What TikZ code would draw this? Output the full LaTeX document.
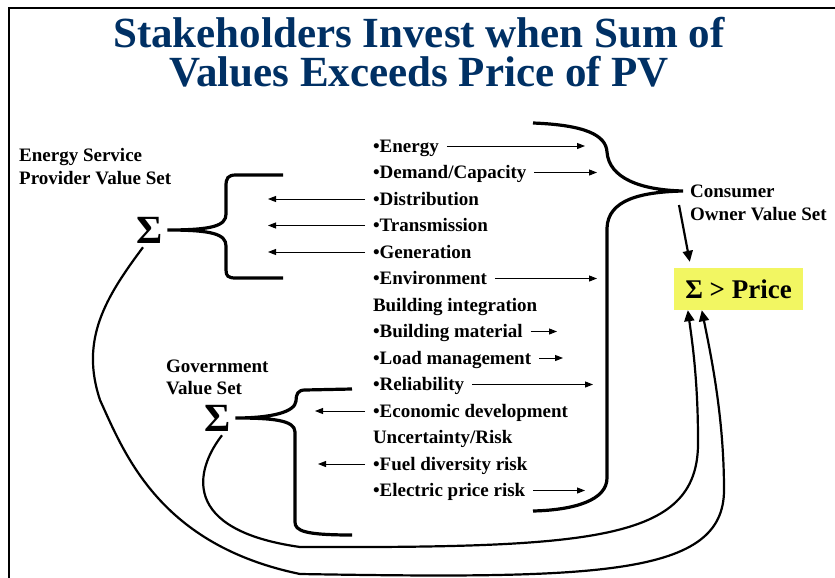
\documentclass[tikz,border=0pt]{standalone}
\usepackage{fontspec}
\setmainfont{Liberation Serif}
\usepackage{tikz}
\usetikzlibrary{positioning,arrows.meta,calc}
\definecolor{titleblue}{RGB}{0,48,100}
\definecolor{pricefill}{RGB}{242,246,98}
\tikzset{
  title/.style={anchor=north,align=center,inner sep=0pt,text=titleblue,font=\fontsize{43}{39}\selectfont\bfseries},
  item/.style={anchor=north west,inner xsep=0pt,inner ysep=0pt,outer sep=0pt,text height=15pt,text depth=3pt,minimum height=26.5pt,font=\fontsize{19}{22}\selectfont\bfseries},
  under/.style={below=0pt of #1.south west,anchor=north west},
  setname/.style={anchor=north west,align=left,inner sep=0pt,font=\fontsize{19}{22.5}\selectfont\bfseries},
  sigma/.style={inner sep=4pt,font=\fontsize{40}{40}\selectfont\bfseries},
  price/.style={fill=pricefill,minimum width=129pt,minimum height=42pt,inner sep=0pt,font=\fontsize{27}{30}\selectfont\bfseries},
  brace/.style={line width=3.2pt},
  arr/.style={line width=1pt,-{Triangle[length=8pt,width=6pt]},shorten <=8pt},
  feed/.style={line width=2.2pt,-{Triangle[length=11pt,width=10pt]}},
}
\begin{document}
\begin{tikzpicture}[x=1pt,y=-1pt]
  \useasboundingbox (0,0) rectangle (835,578);
  % slide frame, only the left and top edges show
  \draw[line width=1.2pt] (9,578) -- (9,8) -- (835,8);

  \node[title] (head) at (419,17) {Stakeholders Invest when Sum of\\ Values Exceeds Price of PV};

  % middle column: the values
  \node[item] (energy) at (373,132.75) {•Energy};
  \node[item,under=energy] (demand) {•Demand/Capacity};
  \node[item,under=demand] (distr) {•Distribution};
  \node[item,under=distr] (trans) {•Transmission};
  \node[item,under=trans] (gen) {•Generation};
  \node[item,under=gen] (env) {•Environment};
  \node[item,under=env] (bldg) {Building integration};
  \node[item,under=bldg] (bmat) {•Building material};
  \node[item,under=bmat] (load) {•Load management};
  \node[item,under=load] (rel) {•Reliability};
  \node[item,under=rel] (econ) {•Economic development};
  \node[item,under=econ] (risk) {Uncertainty/Risk};
  \node[item,under=risk] (fuel) {•Fuel diversity risk};
  \node[item,under=fuel] (eprice) {•Electric price risk};

  % the three value sets
  \node[setname] (esp) at (19,148.5) {Energy Service\\ Provider Value Set};
  \node[setname] (cons) at (690,185) {Consumer\\ Owner Value Set};
  \node[setname] (gov) at (166,359.5) {Government\\ Value Set};
  \node[sigma] (sigesp) at (150,230) {Σ};
  \node[sigma] (siggov) at (218,418) {Σ};
  \node[price] (price) at (738.5,289) {Σ > Price};

  % arrow ends
  \coordinate (energy-r) at (585,146);
  \coordinate (demand-r) at (597,172.5);
  \coordinate (env-r) at (597,278.5);
  \coordinate (bmat-r) at (557,331.5);
  \coordinate (load-r) at (563,358);
  \coordinate (rel-r) at (593,384.5);
  \coordinate (eprice-r) at (585,490.5);
  \coordinate (distr-l) at (268,199);
  \coordinate (trans-l) at (268,225.5);
  \coordinate (gen-l) at (268,252);
  \coordinate (econ-l) at (315,411);
  \coordinate (fuel-l) at (318,464);
  \coordinate (ctip) at (683,191);

  % braces
  \draw[brace] (283,175) -- (236,175) .. controls (228,175) and (226,178) .. (226,186) -- (226,214)
    .. controls (226,226) and (212,230) .. (sigesp.east) .. controls (212,230) and (226,234) .. (226,246)
    -- (226,270) .. controls (226,276) and (228,278) .. (236,278) -- (283,278);
  \draw[brace] (533,123) .. controls (585,125) and (606,135) .. (607,152) .. controls (609,178) and (640,190) .. (ctip)
    .. controls (640,192) and (608,200) .. (607,228) -- (607,478) .. controls (607,500) and (575,510) .. (533,511);
  \draw[brace] (352,389) -- (305,390) .. controls (298,390) and (296,394) .. (296,401)
    .. controls (295,412) and (272,418) .. (siggov.east) .. controls (272,418) and (295,420) .. (295,432)
    -- (295,522) .. controls (295,531) and (305,535) .. (352,535);

  \draw[arr] (energy.east) -- (energy-r);
  \draw[arr] (demand.east) -- (demand-r);
  \draw[arr] (env.east) -- (env-r);
  \draw[arr] (bmat.east) -- (bmat-r);
  \draw[arr] (load.east) -- (load-r);
  \draw[arr] (rel.east) -- (rel-r);
  \draw[arr] (eprice.east) -- (eprice-r);
  \draw[arr] (distr.west) -- (distr-l);
  \draw[arr] (trans.west) -- (trans-l);
  \draw[arr] (gen.west) -- (gen-l);
  \draw[arr] (econ.west) -- (econ-l);
  \draw[arr] (fuel.west) -- (fuel-l);

  % sums feeding the price test
  \draw[feed] ($(ctip)+(-4,14)$) -- ($(price.north west)+(16,-6)$);
  \draw[feed] ([xshift=4]siggov.south) .. controls (195,470) and (180,530) .. (300,547)
    .. controls (600,548) and (700,540) .. (698,440) .. controls (698,380) and (692,340) .. ([xshift=14]price.south west);
  \draw[feed] ([xshift=-7]sigesp.south) .. controls (105,298) and (80,340) .. (100,400)
    .. controls (125,455) and (160,545) .. (300,574) .. controls (600,579) and (724,576) .. (724,490)
    .. controls (724,420) and (712,360) .. ([xshift=28]price.south west);
\end{tikzpicture}
\end{document}
